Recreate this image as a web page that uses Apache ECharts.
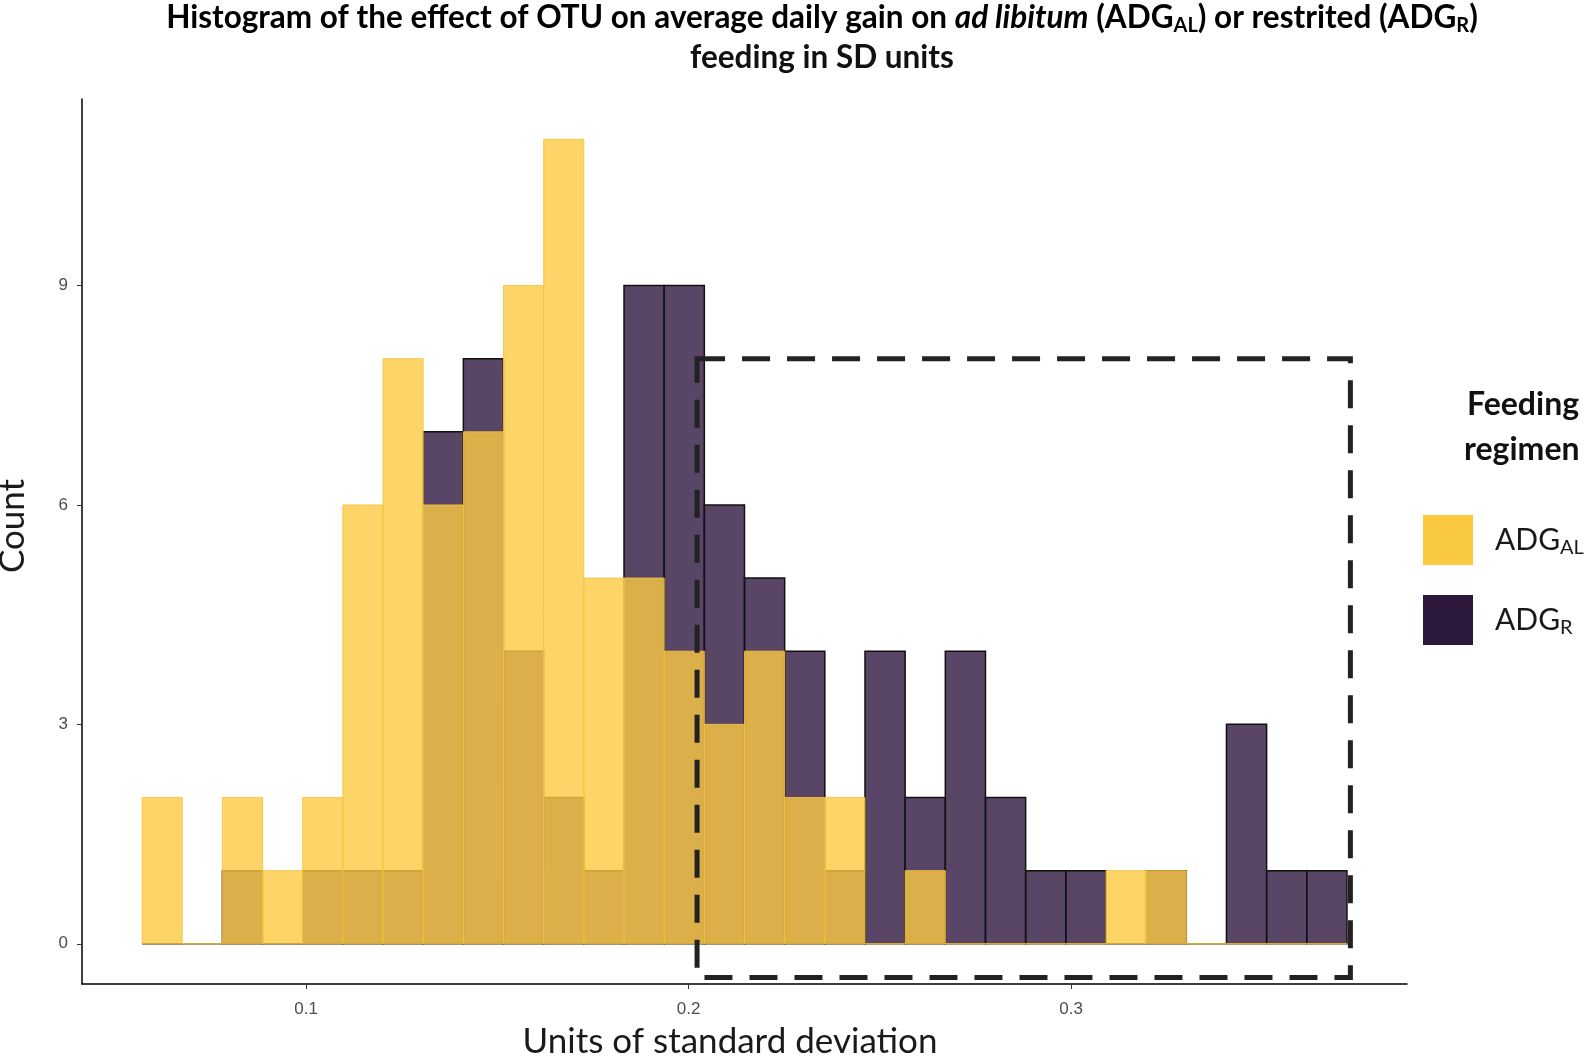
<!DOCTYPE html>
<html>
<head>
<meta charset="utf-8">
<script src="https://cdn.jsdelivr.net/npm/echarts@6/dist/echarts.min.js"></script>
<style>html,body{margin:0;padding:0;background:#fff;}#chart{width:1594px;height:1058px;}</style>
</head>
<body>
<div id="chart"></div>
<script>
// Histogram bin edges (units of standard deviation)
var binEdges = [0.0571, 0.0676, 0.0781, 0.0886, 0.0991, 0.1096, 0.1201, 0.1306, 0.1411, 0.1516,
                0.1621, 0.1726, 0.1831, 0.1936, 0.2041, 0.2146, 0.2251, 0.2356, 0.2461, 0.2566,
                0.2671, 0.2776, 0.2881, 0.2986, 0.3091, 0.3196, 0.3301, 0.3406, 0.3511, 0.3616, 0.3721];
// Counts per bin
var alCounts = [2, 0, 2, 1, 2, 6, 8, 6, 7, 9, 11, 5, 5, 4, 3, 4, 2, 2, 0, 1, 0, 0, 0, 0, 1, 1, 0, 0, 0, 0];
var rCounts  = [0, 0, 1, 0, 1, 1, 1, 7, 8, 4, 2, 1, 9, 9, 6, 5, 4, 1, 4, 2, 4, 2, 1, 1, 0, 1, 0, 3, 1, 1];
// Tick labels
var xTicks = [0.1, 0.2, 0.3];
var yTicks = [0, 3, 6, 9];
// Highlight box [xmin, xmax, ymin, ymax]
var boxRange = [0.2022, 0.3730, -0.46, 8];
var seriesNames = ['ADG_AL', 'ADG_R'];

function histData(counts) {
  var out = [];
  for (var i = 0; i < counts.length; i++) out.push([binEdges[i], binEdges[i + 1], counts[i]]);
  return out;
}
function histRender(fill, stroke, lw) {
  return function (params, api) {
    var p0 = api.coord([api.value(0), 0]);
    var p1 = api.coord([api.value(1), api.value(2)]);
    return {
      type: 'rect',
      shape: { x: p0[0], y: p1[1], width: p1[0] - p0[0], height: p0[1] - p1[1] },
      style: { fill: fill, stroke: stroke, lineWidth: lw }
    };
  };
}

var chart = echarts.init(document.getElementById('chart'), null, { renderer: 'canvas' });
var TS = 31.5;
var subRich = {
  b: { fontFamily: 'Lato', fontWeight: 'bold', fontSize: TS, color: '#111' },
  i: { fontFamily: 'Lato', fontWeight: 'bold', fontStyle: 'italic', fontSize: TS, color: '#111' },
  s: { fontFamily: 'Lato', fontWeight: 'bold', fontSize: 20, color: '#111', padding: [16, 0, 0, 0] }
};
var option = {
  backgroundColor: '#fff',
  animation: false,
  grid: { left: 82, right: 187, top: 99, bottom: 74, containLabel: false, outerBoundsMode: 'none' },
  xAxis: {
    type: 'value', min: 0.0414, max: 0.3878,
    splitLine: { show: false },
    axisLine: { show: true, onZero: false, lineStyle: { color: '#000', width: 1.5 } },
    axisTick: { show: true, length: 5, customValues: xTicks, lineStyle: { color: '#333' } },
    axisLabel: { customValues: xTicks, margin: 17, fontFamily: 'Liberation Sans', fontSize: 17, color: '#4d4d4d',
                 formatter: function (v) { return String(v); } }
  },
  yAxis: {
    type: 'value', min: -0.55, max: 11.55,
    splitLine: { show: false },
    axisLine: { show: true, onZero: false, lineStyle: { color: '#000', width: 1.5 } },
    axisTick: { show: true, length: 5, customValues: yTicks, lineStyle: { color: '#333' } },
    axisLabel: { customValues: yTicks, margin: 14, fontFamily: 'Liberation Sans', fontSize: 17, color: '#4d4d4d' }
  },
  legend: {
    orient: 'vertical', left: 1418, top: 510,
    itemWidth: 50, itemHeight: 50, itemGap: 30,
    data: [
      { name: seriesNames[0], icon: 'rect', itemStyle: { color: '#F9C940', borderWidth: 0 } },
      { name: seriesNames[1], icon: 'rect', itemStyle: { color: '#2B183B', borderWidth: 0 } }
    ],
    formatter: function (n) { var p = n.split('_'); return '{a|' + p[0] + '}{s|' + p[1] + '}'; },
    textStyle: {
      rich: {
        a: { fontFamily: 'Lato', fontSize: 30, color: '#1a1a1a', padding: [0, 0, 0, 17] },
        s: { fontFamily: 'Lato', fontSize: 20, color: '#1a1a1a', padding: [16, 0, 0, 0] }
      }
    },
    selectedMode: false
  },
  graphic: [
    { type: 'text', x: 822, y: 18, z: 10,
      style: { text: '{b|Histogram of the effect of OTU on average daily gain on }{i|ad libitum}{b| (ADG}{s|AL}{b|) or restrited (ADG}{s|R}{b|)}',
               rich: subRich, align: 'center', verticalAlign: 'middle' } },
    { type: 'text', x: 822, y: 58, z: 10,
      style: { text: 'feeding in SD units', fontFamily: 'Lato', fontWeight: 'bold', fontSize: TS, fill: '#111',
               align: 'center', verticalAlign: 'middle' } },
    { type: 'text', x: 1467, y: 405, z: 10,
      style: { text: 'Feeding', fontFamily: 'Lato', fontWeight: 'bold', fontSize: 32, fill: '#111', align: 'left', verticalAlign: 'middle' } },
    { type: 'text', x: 1464, y: 450, z: 10,
      style: { text: 'regimen', fontFamily: 'Lato', fontWeight: 'bold', fontSize: 32, fill: '#111', align: 'left', verticalAlign: 'middle' } },
    { type: 'text', x: 13, y: 526, rotation: Math.PI / 2, z: 10,
      style: { text: 'Count', fontFamily: 'Lato', fontSize: 35, fill: '#1a1a1a', align: 'center', verticalAlign: 'middle' } },
    { type: 'text', x: 730, y: 1042, z: 10,
      style: { text: 'Units of standard deviation', fontFamily: 'Lato', fontSize: 35, fill: '#1a1a1a', align: 'center', verticalAlign: 'middle' } }
  ],
  series: [
    {
      name: seriesNames[1], type: 'custom', z: 2, clip: false,
      itemStyle: { color: '#2B183B' },
      encode: { x: [0, 1], y: 2 },
      data: histData(rCounts),
      renderItem: histRender('rgba(48,22,62,0.8)', '#111', 1.5)
    },
    {
      name: seriesNames[0], type: 'custom', z: 3, clip: false,
      itemStyle: { color: '#F9C940' },
      encode: { x: [0, 1], y: 2 },
      data: histData(alCounts),
      renderItem: histRender('rgba(251,201,66,0.8)', 'rgba(245,196,60,0.85)', 1)
    },
    {
      name: 'box', type: 'custom', z: 4, clip: false, silent: true,
      data: [boxRange],
      encode: { x: [0, 1], y: [2, 3] },
      renderItem: function (params, api) {
        var a = api.coord([api.value(0), api.value(3)]);
        var b = api.coord([api.value(1), api.value(2)]);
        return {
          type: 'rect',
          shape: { x: a[0], y: a[1], width: b[0] - a[0], height: b[1] - a[1] },
          style: { fill: 'none', stroke: '#222', lineWidth: 5, lineDash: [28, 17] }
        };
      }
    }
  ]
};
chart.setOption(option);
</script>
</body>
</html>
